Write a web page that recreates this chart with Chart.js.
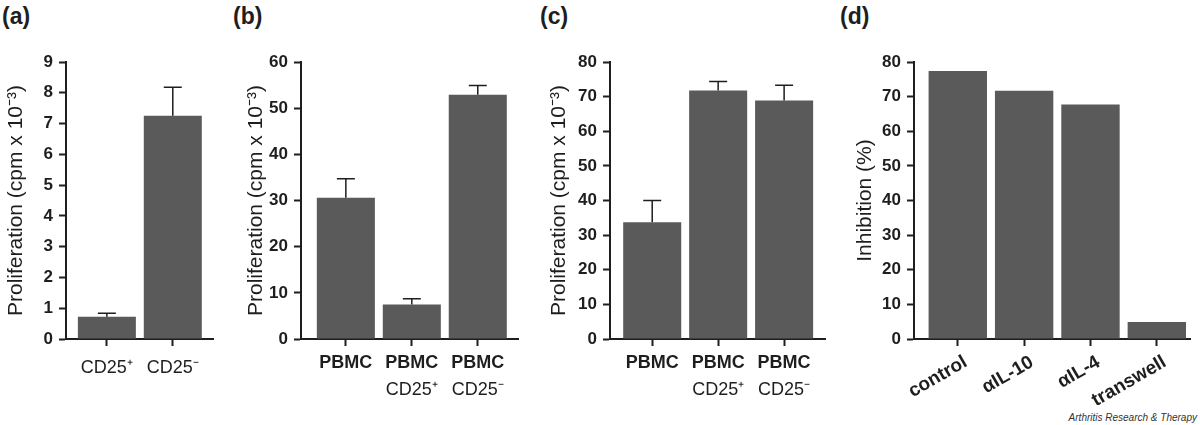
<!DOCTYPE html>
<html>
<head>
<meta charset="utf-8">
<script src="https://cdn.jsdelivr.net/npm/chart.js@4.4.1/dist/chart.umd.min.js"></script>
<style>
  body { margin: 0; background: #fff; width: 1200px; height: 425px; position: relative; overflow: hidden;
         font-family: "Liberation Sans", Arial, sans-serif; color: #1e1e1e; }
  canvas { position: absolute; top: 0; }
  .letter { position: absolute; top: 3px; font-weight: bold; font-size: 23px; line-height: 26px; }
  .credit { position: absolute; right: 3px; top: 412px; font-style: italic; font-size: 10px; color: #333; }
</style>
</head>
<body>
<div class="letter" style="left:2px">(a)</div>
<div class="letter" style="left:233px">(b)</div>
<div class="letter" style="left:540px">(c)</div>
<div class="letter" style="left:840px">(d)</div>
<div class="credit">Arthritis Research &amp; Therapy</div>

<canvas id="chartA" width="225" height="425" style="left:0px"></canvas>
<canvas id="chartB" width="290" height="425" style="left:240px"></canvas>
<canvas id="chartC" width="292" height="425" style="left:543px"></canvas>
<canvas id="chartD" width="351" height="425" style="left:849px"></canvas>

<script>
// panel (a)
const aLabels = ['CD25⁺', 'CD25⁻'];
const aValues = [0.72, 7.25];
const aErrors = [0.12, 0.93];
const aYTicks = [0, 1, 2, 3, 4, 5, 6, 7, 8, 9];

// panel (b)
const bLabelsTop = ['PBMC', 'PBMC', 'PBMC'];
const bLabelsBottom = ['', 'CD25⁺', 'CD25⁻'];
const bValues = [30.6, 7.5, 52.9];
const bErrors = [4.1, 1.2, 2.0];
const bYTicks = [0, 10, 20, 30, 40, 50, 60];

// panel (c)
const cLabelsTop = ['PBMC', 'PBMC', 'PBMC'];
const cLabelsBottom = ['', 'CD25⁺', 'CD25⁻'];
const cValues = [33.7, 71.8, 68.9];
const cErrors = [6.3, 2.6, 4.4];
const cYTicks = [0, 10, 20, 30, 40, 50, 60, 70, 80];

// panel (d)
const dLabels = ['control', 'αIL-10', 'αIL-4', 'transwell'];
const dValues = [77.4, 71.7, 67.7, 4.9];
const dYTicks = [0, 10, 20, 30, 40, 50, 60, 70, 80];

const prolifTitle = 'Proliferation (cpm x 10⁻³)';
const AXIS = '#1e1e1e';
const BAR = '#5a5a5a';
const FONT = '"Liberation Sans", Arial, sans-serif';

Chart.defaults.font.family = FONT;
Chart.defaults.color = '#1e1e1e';

// draws the upper error whisker with a cap on each bar
const errorBarPlugin = {
  id: 'errorBars',
  afterDatasetsDraw(chart, args, opts) {
    if (!opts.errors) return;
    const ctx = chart.ctx;
    const xs = chart.scales.x;
    const ys = chart.scales.y;
    const points = chart.data.datasets[0].data;
    ctx.save();
    ctx.strokeStyle = AXIS;
    ctx.lineWidth = 1.5;
    opts.errors.forEach(function (err, i) {
      const x = xs.getPixelForValue(points[i].x);
      const yBar = ys.getPixelForValue(points[i].y);
      const yTop = ys.getPixelForValue(points[i].y + err);
      ctx.beginPath();
      ctx.moveTo(x, yBar);
      ctx.lineTo(x, yTop);
      ctx.moveTo(x - 9, yTop);
      ctx.lineTo(x + 9, yTop);
      ctx.stroke();
    });
    ctx.restore();
  }
};

// second (regular weight) line under the bold category labels
const secondLinePlugin = {
  id: 'secondLine',
  afterDraw(chart, args, opts) {
    if (!opts.labels) return;
    const ctx = chart.ctx;
    const xs = chart.scales.x;
    ctx.save();
    ctx.font = '18px ' + FONT;
    ctx.fillStyle = '#1e1e1e';
    ctx.textAlign = 'center';
    ctx.textBaseline = 'middle';
    opts.labels.forEach(function (text, i) {
      ctx.fillText(text, xs.getPixelForValue(i), chart.chartArea.bottom + opts.offset);
    });
    ctx.restore();
  }
};

function fixedTicks(values) {
  return function (scale) {
    scale.ticks = values.map(v => ({ value: v }));
  };
}

function buildPanel(id, o) {
  const idx = o.values.map((_, i) => i);
  return new Chart(document.getElementById(id), {
    type: 'bar',
    data: {
      datasets: [{
        data: o.values.map((v, i) => ({ x: i, y: v })),
        backgroundColor: BAR,
        borderWidth: 0,
        barPercentage: 0.88,
        categoryPercentage: 1
      }]
    },
    options: {
      responsive: false,
      animation: false,
      layout: { padding: { left: 0, right: o.padRight, top: 62, bottom: 0 } },
      scales: {
        x: {
          type: 'linear',
          min: o.xMin,
          max: o.xMax,
          offset: false,
          afterBuildTicks: fixedTicks(idx),
          afterFit: s => { s.height = 86; },
          border: { display: true, color: AXIS, width: 2 },
          grid: { offset: false, drawOnChartArea: false, drawTicks: true, tickLength: 7, tickColor: AXIS, tickWidth: 2 },
          ticks: {
            autoSkip: false,
            padding: o.xPad,
            labelOffset: o.labelOffset || 0,
            minRotation: o.rotation || 0,
            maxRotation: o.rotation || 0,
            font: o.xFont,
            callback: v => o.labels[v]
          }
        },
        y: {
          min: 0,
          max: o.yTicks[o.yTicks.length - 1],
          afterBuildTicks: fixedTicks(o.yTicks),
          afterFit: s => { s.width = o.yWidth; },
          border: { display: true, color: AXIS, width: 2 },
          grid: { drawOnChartArea: false, drawTicks: true, tickLength: 7, tickColor: AXIS, tickWidth: 2 },
          ticks: { padding: 6, font: { size: 17, weight: 'bold' } },
          title: { display: true, text: o.yTitle, font: { size: 21 }, padding: { top: 4, bottom: 0 } }
        }
      },
      plugins: {
        legend: { display: false },
        tooltip: { enabled: false },
        errorBars: { errors: o.errors },
        secondLine: { labels: o.labels2, offset: 51 }
      }
    },
    plugins: [errorBarPlugin, secondLinePlugin]
  });
}

buildPanel('chartA', {
  labels: aLabels, values: aValues, errors: aErrors, yTicks: aYTicks,
  xMin: -0.62, xMax: 1.61, yWidth: 66, padRight: 12,
  xPad: 11, xFont: { size: 18 }, yTitle: prolifTitle
});

buildPanel('chartB', {
  labels: bLabelsTop, labels2: bLabelsBottom, values: bValues, errors: bErrors, yTicks: bYTicks,
  xMin: -0.68, xMax: 2.61, yWidth: 61, padRight: 12,
  xPad: 6, xFont: { size: 18, weight: 'bold' }, yTitle: prolifTitle
});

buildPanel('chartC', {
  labels: cLabelsTop, labels2: cLabelsBottom, values: cValues, errors: cErrors, yTicks: cYTicks,
  xMin: -0.64, xMax: 2.62, yWidth: 67, padRight: 10,
  xPad: 6, xFont: { size: 18, weight: 'bold' }, yTitle: prolifTitle
});

buildPanel('chartD', {
  labels: dLabels, values: dValues, errors: null, yTicks: dYTicks,
  xMin: -0.66, xMax: 3.5, yWidth: 65, padRight: 10,
  xPad: 5, labelOffset: 8, rotation: 30, xFont: { size: 19, weight: 'bold' }, yTitle: 'Inhibition (%)'
});
</script>
</body>
</html>
